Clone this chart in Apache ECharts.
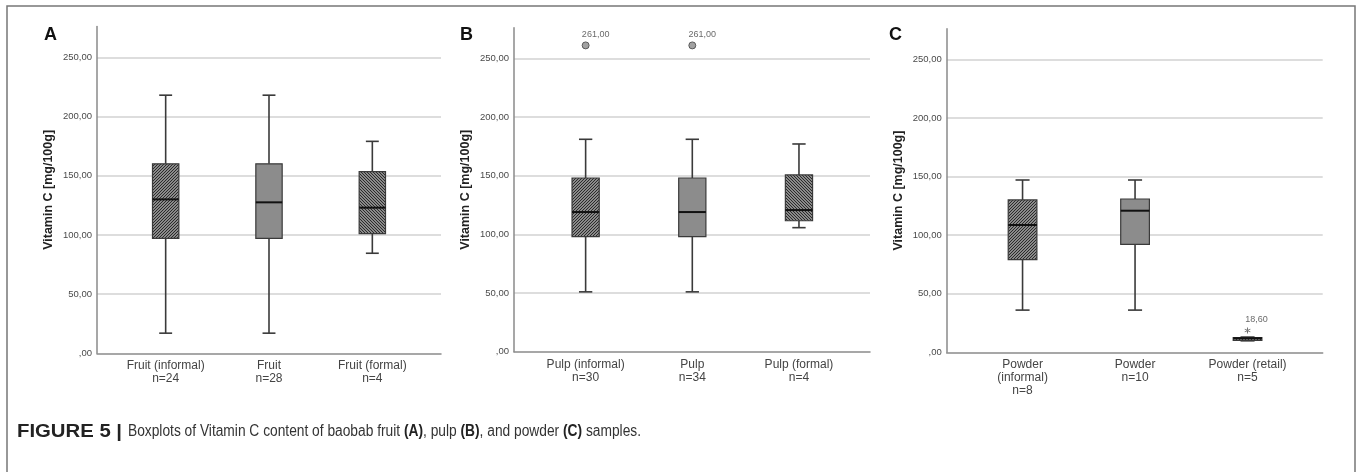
<!DOCTYPE html>
<html>
<head>
<meta charset="utf-8">
<script src="https://cdn.jsdelivr.net/npm/echarts@6/dist/echarts.min.js"></script>
<style>
html,body{margin:0;padding:0;background:#fff;}
#chart{width:1358px;height:472px;}
</style>
</head>
<body>
<div id="chart"></div>
<script>
// ---- data ----
const fruitNames = ['Fruit (informal)', 'Fruit', 'Fruit (formal)'];
const fruitN = [24, 28, 4];
// [min, Q1, median, Q3, max]
const fruitBoxes = [[17, 97, 130, 160, 218], [17, 97, 127.5, 160, 218], [84.5, 101, 123, 153.5, 179]];

const pulpNames = ['Pulp (informal)', 'Pulp', 'Pulp (formal)'];
const pulpN = [30, 34, 4];
const pulpBoxes = [[51, 98, 119, 148, 181], [51, 98, 119, 148, 181], [105.7, 111.6, 120.7, 150.6, 177]];
const pulpOutliers = [[0, 261], [1, 261]];

const powderNames = ['Powder\n(informal)', 'Powder', 'Powder (retail)'];
const powderN = [8, 10, 5];
const powderBoxes = [[36, 79, 108.6, 130, 147], [36, 92, 120.8, 130.8, 147], [9.8, 10.2, 12, 12.6, 13]];
const powderExtremes = [[2, 18.6]];

const yTicks = [0, 50, 100, 150, 200, 250];
const fillKinds = ['hatchUp', 'plain', 'hatchDown'];
const captionPrefix = 'FIGURE 5 |';
const captionParts = [
  ['n', 'Boxplots of Vitamin C content of baobab fruit '], ['b', '(A)'],
  ['n', ', pulp '], ['b', '(B)'], ['n', ', and powder '], ['b', '(C)'], ['n', ' samples.']
];

// ---- patterns ----
function makeHatch(dir) {
  const n = 3, c = document.createElement('canvas');
  c.width = n; c.height = n;
  const ctx = c.getContext('2d');
  ctx.fillStyle = '#8a8a8a'; ctx.fillRect(0, 0, n, n);
  ctx.fillStyle = '#2a2a2a';
  for (let x = 0; x < n; x++) for (let y = 0; y < n; y++) {
    const k = dir > 0 ? (x + y) % n : ((x - y) % n + n) % n;
    if (k === 0) ctx.fillRect(x, y, 1, 1);
  }
  return c;
}
const fills = {
  hatchUp: {image: makeHatch(1), repeat: 'repeat'},
  hatchDown: {image: makeHatch(-1), repeat: 'repeat'},
  plain: '#8c8c8c'
};

function fmt(v) { return v === 0 ? ',00' : v.toFixed(2).replace('.', ','); }

function renderBox(params, api) {
  const i = api.value(0);
  const lo = api.value(1), q1 = api.value(2), med = api.value(3), q3 = api.value(4), hi = api.value(5);
  const band = api.size([1, 0])[0];
  const bw = band * 0.255, cw = band * 0.125;
  const pLo = api.coord([i, lo]), pQ1 = api.coord([i, q1]), pMed = api.coord([i, med]);
  const pQ3 = api.coord([i, q3]), pHi = api.coord([i, hi]);
  const x = pMed[0];
  const ws = {stroke: '#3a3a3a', lineWidth: 1.6};
  return {
    type: 'group',
    children: [
      {type: 'line', shape: {x1: x, y1: pQ1[1], x2: x, y2: pLo[1]}, style: ws},
      {type: 'line', shape: {x1: x, y1: pQ3[1], x2: x, y2: pHi[1]}, style: ws},
      {type: 'line', shape: {x1: x - cw / 2, y1: pLo[1], x2: x + cw / 2, y2: pLo[1]}, style: ws},
      {type: 'line', shape: {x1: x - cw / 2, y1: pHi[1], x2: x + cw / 2, y2: pHi[1]}, style: ws},
      {type: 'rect', shape: {x: x - bw / 2, y: pQ3[1], width: bw, height: pQ1[1] - pQ3[1]},
        style: {fill: fills[fillKinds[params.dataIndex]], stroke: '#3a3a3a', lineWidth: 1.2}},
      {type: 'line', shape: {x1: x - bw / 2, y1: pMed[1], x2: x + bw / 2, y2: pMed[1]},
        style: {stroke: '#111', lineWidth: 2}}
    ]
  };
}

const panels = [
  {names: fruitNames, n: fruitN, boxes: fruitBoxes, outliers: [], extremes: [],
   outer: {left: 97, right: 917, top: 26.5, bottom: 118.7}, inner: {left: 114, right: 934}},
  {names: pulpNames, n: pulpN, boxes: pulpBoxes, outliers: pulpOutliers, extremes: [],
   outer: {left: 514, right: 488, top: 27.8, bottom: 120.3}, inner: {left: 532.3, right: 505.7}},
  {names: powderNames, n: powderN, boxes: powderBoxes, outliers: [], extremes: powderExtremes,
   outer: {left: 946.7, right: 35.3, top: 28.8, bottom: 119.7}, inner: {left: 966.3, right: 54.2}}
];

const FONT = 'Liberation Sans, Arial, sans-serif';
const grid = [], xAxis = [], yAxis = [], series = [];
const YMAX = 276;
const starPath = 'path://M4.4,0L5.6,0L5.6,10L4.4,10Z M0.37,3.02L9.03,8.02L9.63,6.98L0.97,1.98Z M0.97,8.02L9.63,3.02L9.03,1.98L0.37,6.98Z';

panels.forEach((p, k) => {
  const cats = p.names.map((nm, i) => nm + '\nn=' + p.n[i]);
  const go = 2 * k, gi = 2 * k + 1;
  grid.push({left: p.outer.left, right: p.outer.right, top: p.outer.top, bottom: p.outer.bottom});
  grid.push({left: p.inner.left, right: p.inner.right, top: p.outer.top, bottom: p.outer.bottom});
  xAxis.push({type: 'category', gridIndex: go, data: cats,
    axisLine: {show: true, lineStyle: {color: '#8a8a8a', width: 1.5}},
    axisTick: {show: false}, axisLabel: {show: false}, splitLine: {show: false}});
  xAxis.push({type: 'category', gridIndex: gi, data: cats,
    axisLine: {show: false}, axisTick: {show: false},
    axisLabel: {show: true, interval: 0, margin: 6, fontSize: 12, lineHeight: 13,
      color: '#444', fontFamily: FONT},
    splitLine: {show: false}});
  yAxis.push({type: 'value', gridIndex: go, min: 0, max: YMAX, interval: 50,
    name: 'Vitamin C [mg/100g]', nameLocation: 'middle', nameGap: 42,
    nameTextStyle: {fontSize: 12.5, fontWeight: 'bold', color: '#222', fontFamily: FONT},
    axisLine: {show: true, lineStyle: {color: '#8a8a8a', width: 1.5}},
    axisTick: {show: false},
    axisLabel: {margin: 5, fontSize: 9.5, color: '#4a4a4a', fontFamily: FONT,
      showMaxLabel: false,
      formatter: v => (yTicks.indexOf(v) >= 0 ? fmt(v) : '')},
    splitLine: {show: true, showMinLine: false, showMaxLine: false, lineStyle: {color: '#d2d2d2', width: 1.5}}});
  yAxis.push({type: 'value', gridIndex: gi, min: 0, max: YMAX, show: false});

  series.push({type: 'custom', xAxisIndex: gi, yAxisIndex: gi,
    data: p.boxes.map((b, i) => [i].concat(b)),
    encode: {x: 0, y: [1, 2, 3, 4, 5]},
    renderItem: renderBox, silent: true, z: 3});
  if (p.outliers.length) {
    series.push({type: 'scatter', xAxisIndex: gi, yAxisIndex: gi, data: p.outliers,
      symbol: 'circle', symbolSize: 7, z: 4,
      itemStyle: {color: '#8a8a8a', borderColor: '#444', borderWidth: 1},
      label: {show: true, position: 'top', distance: 2, offset: [10, 0], fontSize: 9,
        color: '#444', fontFamily: FONT, formatter: q => fmt(q.value[1])}});
  }
  if (p.extremes.length) {
    series.push({type: 'scatter', xAxisIndex: gi, yAxisIndex: gi, data: p.extremes,
      symbol: starPath, symbolSize: 6, z: 4,
      itemStyle: {color: '#222'},
      label: {show: true, position: 'top', distance: 3, offset: [9, 0], fontSize: 9,
        color: '#444', fontFamily: FONT, formatter: q => fmt(q.value[1])}});
  }
});

// caption: condensed by horizontal scaling to match the narrow journal font
const CAP = 16, PRE = 18;
const capRich = {
  b: {fontSize: CAP, fontWeight: 'bold', fill: '#222', fontFamily: FONT},
  n: {fontSize: CAP, fontWeight: 'normal', fill: '#333', fontFamily: FONT}
};
const mctx = document.createElement('canvas').getContext('2d');
mctx.font = 'bold ' + PRE + 'px ' + FONT;
const prefixScale = 105 / mctx.measureText(captionPrefix).width;
let bodyW = 0;
captionParts.forEach(([s, t]) => {
  mctx.font = (s === 'b' ? 'bold ' : '') + CAP + 'px ' + FONT;
  bodyW += mctx.measureText(t).width;
});
const bodyScale = 513 / bodyW;
const bodyText = captionParts.map(([s, t]) => '{' + s + '|' + t + '}').join('');

const chart = echarts.init(document.getElementById('chart'), null, {renderer: 'canvas'});
const letterStyle = {fontSize: 18, fontWeight: 'bold', color: '#111', fontFamily: FONT};
chart.setOption({
  animation: false,
  backgroundColor: '#fff',
  title: [
    {text: 'A', left: 44, top: 26, padding: 0, textStyle: letterStyle},
    {text: 'B', left: 460, top: 26, padding: 0, textStyle: letterStyle},
    {text: 'C', left: 889, top: 26, padding: 0, textStyle: letterStyle}
  ],
  graphic: [
    {type: 'rect', shape: {x: 7, y: 6, width: 1348, height: 520}, style: {fill: 'none', stroke: '#777', lineWidth: 1.5}, z: 100},
    {type: 'text', x: 17, y: 432, scaleX: prefixScale, z: 100,
     style: {text: captionPrefix, font: 'bold ' + PRE + 'px ' + FONT, fill: '#222', verticalAlign: 'middle', align: 'left'}},
    {type: 'text', x: 128, y: 432, scaleX: bodyScale, z: 100,
     style: {text: bodyText, rich: capRich, verticalAlign: 'middle', align: 'left'}}
  ],
  grid, xAxis, yAxis, series
});
</script>
</body>
</html>
